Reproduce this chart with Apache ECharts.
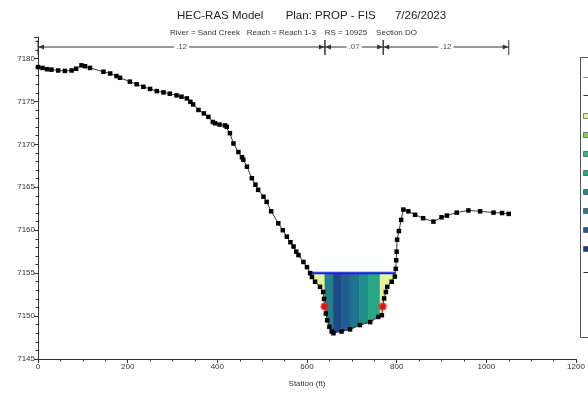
<!DOCTYPE html>
<html>
<head>
<meta charset="utf-8">
<script src="https://cdn.jsdelivr.net/npm/echarts@6/dist/echarts.min.js"></script>
<style>
html,body{margin:0;padding:0;background:#fff;}
#chart{width:588px;height:396px;}
</style>
</head>
<body>
<div id="chart"></div>
<script>
// ---- data ----
const groundSta = [0,10,20,30,45,60,75,85,97,105,116,146,161,175,183,205,220,235,250,265,280,294,309,320,332,340,346,358,370,380,390,395,405,417,421,428,436,447,455,458,466,477,485,491,503,510,520,536,546,555,563,570,576,581,592,600,607,611,618,629,636,638,639,642,645,650,655,659,677,696,718,741,759,767,769,772,776,779,789,796,798,799,800,801,805,810,815,826,841,859,882,900,912,934,960,986,1016,1035,1050];
const groundElev = [7179.0,7178.9,7178.75,7178.7,7178.6,7178.55,7178.6,7178.8,7179.2,7179.1,7178.9,7178.45,7178.25,7177.95,7177.75,7177.3,7177.0,7176.7,7176.45,7176.2,7176.05,7175.9,7175.7,7175.55,7175.35,7174.95,7174.65,7174.0,7173.6,7173.2,7172.6,7172.45,7172.3,7172.2,7172.05,7171.3,7170.1,7169.1,7168.5,7168.2,7167.4,7166.05,7165.3,7164.7,7163.9,7163.3,7162.2,7160.8,7160.0,7159.25,7158.6,7158.1,7157.5,7157.1,7156.3,7155.7,7155.0,7154.55,7154.0,7153.4,7152.8,7152.0,7151.1,7150.3,7149.5,7148.75,7148.2,7148.0,7148.2,7148.45,7148.95,7149.3,7149.9,7150.1,7151.1,7152.05,7152.8,7153.4,7154.0,7154.6,7155.5,7156.5,7157.5,7158.9,7159.9,7161.2,7162.4,7162.2,7161.8,7161.4,7161.0,7161.5,7161.7,7162.05,7162.3,7162.2,7162.05,7162.0,7161.9];
const bankSta = [639, 769];
const bankElev = [7151.1, 7151.1];
const wsElev = 7155.0;
const egElev = 7155.12;
const wsSta = [607, 797];
const sliceEdges = [607, 640, 659, 677, 696, 717, 737, 763, 797];
const nBreaks = [0, 640, 770, 1050];
const nValues = ['.12', '.07', '.12'];
const xTicks = {min: 0, max: 1200, step: 200};
const yTicks = {min: 7145, max: 7182.5, step: 5};

// ---- styles ----
const sliceColors = ['#e4f29c', '#27808d', '#1d4b87', '#225c92', '#1f738e', '#1f8d8b', '#29a685', '#e4f29c'];

function groundAt(s) {
  for (let k = 0; k < groundSta.length - 1; k++) {
    if (s >= groundSta[k] && s <= groundSta[k + 1]) {
      const t = (s - groundSta[k]) / (groundSta[k + 1] - groundSta[k] || 1);
      return groundElev[k] + t * (groundElev[k + 1] - groundElev[k]);
    }
  }
  return groundElev[groundElev.length - 1];
}

const sliceData = [];
for (let i = 0; i < sliceEdges.length - 1; i++) sliceData.push([sliceEdges[i], sliceEdges[i + 1], wsElev]);
const nData = nValues.map((v, i) => [nBreaks[i], nBreaks[i + 1], v]);

const chart = echarts.init(document.getElementById('chart'), null, {renderer: 'canvas'});
const font = 'Liberation Sans, Arial, sans-serif';

chart.setOption({
  animation: false,
  backgroundColor: '#ffffff',
  textStyle: {fontFamily: font},
  title: [
    {text: 'HEC-RAS Model       Plan: PROP - FIS      7/26/2023', left: 172, top: 5,
     textStyle: {fontSize: 11.5, fontWeight: 'normal', color: '#222', fontFamily: font}},
    {text: 'River = Sand Creek   Reach = Reach 1-3    RS = 10925    Section DO', left: 165, top: 24,
     textStyle: {fontSize: 8, fontWeight: 'normal', color: '#333', fontFamily: font}}
  ],
  grid: {left: 38, right: 12, top: 37, bottom: 37},
  xAxis: {
    type: 'value', min: xTicks.min, max: xTicks.max, interval: xTicks.step,
    name: 'Station (ft)', nameLocation: 'middle', nameGap: 21,
    nameTextStyle: {fontSize: 8, color: '#333', fontFamily: font},
    axisLine: {show: true, onZero: false, lineStyle: {color: '#333', width: 1}},
    axisTick: {show: true, length: 4, lineStyle: {color: '#333'}},
    minorTick: {show: true, splitNumber: 4, length: 2.5, lineStyle: {color: '#333'}},
    splitLine: {show: false},
    axisLabel: {fontSize: 8, color: '#333', margin: 4, fontFamily: font, formatter: v => String(v)}
  },
  yAxis: {
    type: 'value', min: yTicks.min, max: yTicks.max, interval: yTicks.step,
    axisLine: {show: true, onZero: false, lineStyle: {color: '#333', width: 1}},
    axisTick: {show: true, length: 4, lineStyle: {color: '#333'}},
    minorTick: {show: true, splitNumber: 5, length: 2.5, lineStyle: {color: '#333'}},
    splitLine: {show: false},
    axisLabel: {fontSize: 8, color: '#333', margin: 3, fontFamily: font, showMaxLabel: false,
      formatter: v => (v % 5 === 0 ? String(v) : '')}
  },
  series: [
    {
      type: 'custom', name: 'velocity', z: 2,
      data: sliceData,
      encode: {x: [0, 1], y: 2},
      renderItem: function (params, api) {
        const i = params.dataIndex;
        const s0 = api.value(0), s1 = api.value(1), ws = api.value(2);
        const pts = [api.coord([s0, ws]), api.coord([s1, ws]), api.coord([s1, Math.min(ws, groundAt(s1))])];
        for (let k = groundSta.length - 1; k >= 0; k--) {
          if (groundSta[k] < s1 && groundSta[k] > s0) pts.push(api.coord([groundSta[k], Math.min(ws, groundElev[k])]));
        }
        pts.push(api.coord([s0, Math.min(ws, groundAt(s0))]));
        return {type: 'polygon', shape: {points: pts},
          style: {fill: sliceColors[i], stroke: sliceColors[i], lineWidth: 0.6}};
      }
    },
    {
      type: 'line', name: 'EG PF 1', z: 3, symbol: 'none',
      data: wsSta.map(s => [s, egElev]),
      lineStyle: {color: '#3cb44b', width: 1}
    },
    {
      type: 'line', name: 'WS PF 1', z: 4, symbol: 'none',
      data: wsSta.map(s => [s, wsElev]),
      lineStyle: {color: '#1a1aff', width: 2}
    },
    {
      type: 'line', name: 'Ground', z: 5,
      data: groundSta.map((s, i) => [s, groundElev[i]]),
      symbol: 'rect', symbolSize: 4.5, showAllSymbol: true,
      lineStyle: {color: '#3a3a3a', width: 1},
      itemStyle: {color: '#000'}
    },
    {
      type: 'scatter', name: 'Bank Sta', z: 6,
      data: bankSta.map((s, i) => [s, bankElev[i]]),
      symbol: 'circle', symbolSize: 8,
      itemStyle: {color: '#ff1a1a'}
    },
    {
      type: 'custom', name: 'n values', z: 7, clip: false,
      data: nData,
      encode: {x: [0, 1]},
      renderItem: function (params, api) {
        const s0 = api.value(0), s1 = api.value(1);
        const label = nValues[params.dataIndex];
        const yTop = params.coordSys.y + 10;
        const x0 = api.coord([s0, yTicks.min])[0];
        const x1 = api.coord([s1, yTicks.min])[0];
        const c = '#333';
        const children = [
          {type: 'line', shape: {x1: x0, y1: yTop, x2: x1, y2: yTop}, style: {stroke: c, lineWidth: 1}},
          {type: 'line', shape: {x1: x0, y1: yTop - 7, x2: x0, y2: yTop + 8}, style: {stroke: c, lineWidth: 1}},
          {type: 'line', shape: {x1: x1, y1: yTop - 7, x2: x1, y2: yTop + 8}, style: {stroke: c, lineWidth: 1}},
          {type: 'polygon', shape: {points: [[x0 + 0.5, yTop], [x0 + 6, yTop - 2.5], [x0 + 6, yTop + 2.5]]}, style: {fill: c}},
          {type: 'polygon', shape: {points: [[x1 - 0.5, yTop], [x1 - 6, yTop - 2.5], [x1 - 6, yTop + 2.5]]}, style: {fill: c}},
          {type: 'text', style: {x: (x0 + x1) / 2, y: yTop, text: label, align: 'center', verticalAlign: 'middle',
            fontSize: 8, fontFamily: font, fill: '#555', backgroundColor: '#fff', padding: [0, 2]}}
        ];
        return {type: 'group', children: children};
      }
    }
  ],
  graphic: [
    {type: 'group', left: 580, top: 57, children: [
      {type: 'rect', shape: {x: 0, y: 0, width: 120, height: 280}, style: {fill: '#fff', stroke: '#555', lineWidth: 1}},
      {type: 'line', shape: {x1: 3, y1: 20, x2: 10, y2: 20}, style: {stroke: '#3cb44b', lineWidth: 1}},
      {type: 'line', shape: {x1: 3, y1: 38, x2: 10, y2: 38}, style: {stroke: '#1a1aff', lineWidth: 1}},
      {type: 'rect', shape: {x: 3, y: 56, width: 5, height: 5}, style: {fill: '#e4f29c', stroke: '#333', lineWidth: 0.6}},
      {type: 'rect', shape: {x: 3, y: 75, width: 5, height: 5}, style: {fill: '#7fd34e', stroke: '#333', lineWidth: 0.6}},
      {type: 'rect', shape: {x: 3, y: 94, width: 5, height: 5}, style: {fill: '#35b779', stroke: '#333', lineWidth: 0.6}},
      {type: 'rect', shape: {x: 3, y: 113, width: 5, height: 5}, style: {fill: '#29a685', stroke: '#333', lineWidth: 0.6}},
      {type: 'rect', shape: {x: 3, y: 132, width: 5, height: 5}, style: {fill: '#1f8d8b', stroke: '#333', lineWidth: 0.6}},
      {type: 'rect', shape: {x: 3, y: 151, width: 5, height: 5}, style: {fill: '#27808d', stroke: '#333', lineWidth: 0.6}},
      {type: 'rect', shape: {x: 3, y: 170, width: 5, height: 5}, style: {fill: '#225c92', stroke: '#333', lineWidth: 0.6}},
      {type: 'rect', shape: {x: 3, y: 189, width: 5, height: 5}, style: {fill: '#1d3f87', stroke: '#333', lineWidth: 0.6}},
      {type: 'line', shape: {x1: 3, y1: 215, x2: 10, y2: 215}, style: {stroke: '#333', lineWidth: 1}}
    ]}
  ]
});
</script>
</body>
</html>
